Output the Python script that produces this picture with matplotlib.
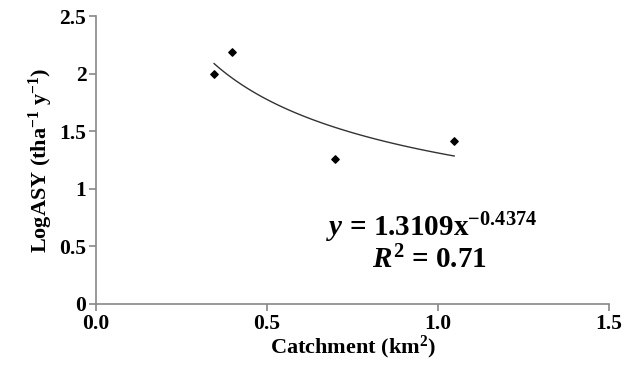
import matplotlib.pyplot as plt
import numpy as np

# Catchment area (km2) vs log annual sediment yield
catchment = [0.345, 0.398, 0.699, 1.047]
log_asy = [2.00, 2.19, 1.26, 1.415]

# power-law trendline y = a * x^b
coef_a = 1.3109
coef_b = -0.4374

x_ticks = [0.0, 0.5, 1.0, 1.5]
x_tick_labels = ['0.0', '0.5', '1.0', '1.5']
y_ticks = [0, 0.5, 1, 1.5, 2, 2.5]
y_tick_labels = ['0', '0.5', '1', '1.5', '2', '2.5']

plt.rcParams['font.family'] = 'Liberation Serif'
plt.rcParams['mathtext.fontset'] = 'custom'
plt.rcParams['mathtext.rm'] = 'Liberation Serif:bold'
plt.rcParams['mathtext.it'] = 'Liberation Serif:bold:italic'
plt.rcParams['mathtext.bf'] = 'Liberation Serif:bold'

fig = plt.figure(figsize=(6.28, 3.67), dpi=100)
ax = fig.add_axes([0.153, 0.172, 0.817, 0.784])

ax.scatter(catchment, log_asy, marker='D', s=14, color='black', zorder=3)

xf = np.linspace(min(catchment), max(catchment), 100)
ax.plot(xf, coef_a * xf ** coef_b, color='#333333', linewidth=1.0)

ax.set_xlim(0, 1.5)
ax.set_ylim(0, 2.5)
ax.set_xticks(x_ticks)
ax.set_xticklabels(x_tick_labels, fontweight='bold', fontsize=15.5)
ax.set_yticks(y_ticks)
ax.set_yticklabels(y_tick_labels, fontweight='bold', fontsize=15.5)

for side in ['top', 'right']:
    ax.spines[side].set_visible(False)
for side in ['left', 'bottom']:
    ax.spines[side].set_color('#888888')
    ax.spines[side].set_linewidth(1.2)
ax.tick_params(axis='both', direction='out', length=5, width=1.2, color='#888888', pad=2)

ax.set_xlabel('Catchment (km$^{2}$)', fontweight='bold', fontsize=16, labelpad=0)
ax.set_ylabel('LogASY (tha$^{-1}$ y$^{-1}$)', fontweight='bold', fontsize=16, labelpad=3)

ax.text(0.98, 0.66, '$\\mathit{y}$ = 1.3109x$^{-0.4374}$', fontsize=21, fontweight='bold',
        ha='center', va='center')
ax.text(0.975, 0.38, '$\\mathit{R}^{2}$ = 0.71', fontsize=21, fontweight='bold',
        ha='center', va='center')

plt.savefig('out.png', dpi=100)
